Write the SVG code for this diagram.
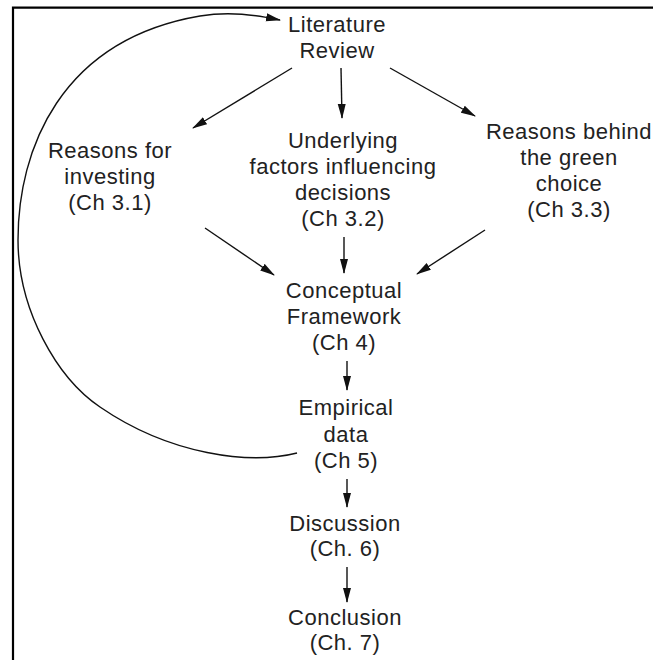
<svg xmlns="http://www.w3.org/2000/svg" width="653" height="660" viewBox="0 0 653 660">
<defs>
<style>
text{font-family:"Liberation Sans",Arial,sans-serif;font-size:22px;letter-spacing:0.5px;fill:#222;text-anchor:middle}
.c{fill:none;stroke:#111;stroke-width:1.4}
</style>
<marker id="ah" viewBox="0 0 15 9" refX="14" refY="4.5" markerWidth="15" markerHeight="9" markerUnits="userSpaceOnUse" orient="auto">
<path d="M0,0.5 L15,4.5 L0,8.5 Z" fill="#111"/>
</marker>
</defs>
<rect width="653" height="660" fill="#fff"/>
<g id="frame">
<path d="M13,660 V7.7 H653" fill="none" stroke="#000" stroke-width="2.2"/>
</g>
<g id="lit"><text x="337" y="32">Literature</text><text x="337" y="58">Review</text></g>
<g id="r31"><text x="110" y="158">Reasons for</text><text x="110" y="184">investing</text><text x="110" y="210">(Ch 3.1)</text></g>
<g id="r32"><text x="343" y="148">Underlying</text><text x="343" y="174">factors influencing</text><text x="343" y="200">decisions</text><text x="343" y="226">(Ch 3.2)</text></g>
<g id="r33"><text x="569" y="139">Reasons behind</text><text x="569" y="165">the green</text><text x="569" y="191">choice</text><text x="569" y="217">(Ch 3.3)</text></g>
<g id="cf"><text x="344" y="298">Conceptual</text><text x="344" y="324">Framework</text><text x="344" y="350">(Ch 4)</text></g>
<g id="ed"><text x="346" y="415">Empirical</text><text x="346" y="442">data</text><text x="346" y="468">(Ch 5)</text></g>
<g id="disc"><text x="345" y="531">Discussion</text><text x="345" y="556">(Ch. 6)</text></g>
<g id="conc"><text x="345" y="625">Conclusion</text><text x="345" y="650">(Ch. 7)</text></g>
<g id="connectors">
<path class="c" marker-end="url(#ah)" d="M292,68 L193,128"/>
<path class="c" marker-end="url(#ah)" d="M341,68 L342,118"/>
<path class="c" marker-end="url(#ah)" d="M390,68 L475,116"/>
<path class="c" marker-end="url(#ah)" d="M205,228 L274,275"/>
<path class="c" marker-end="url(#ah)" d="M344,237 L344,273"/>
<path class="c" marker-end="url(#ah)" d="M485,230 L417,274"/>
<path class="c" marker-end="url(#ah)" d="M347,361 L347,390"/>
<path class="c" marker-end="url(#ah)" d="M347,479 L347,507"/>
<path class="c" marker-end="url(#ah)" d="M347,567 L347,602"/>
<path class="c" marker-end="url(#ah)" d="M297,453 C250,465 170,455 100,407 C57,378 18,310 18,240 C18,150 60,40 200,16 C230,11 255,15 280,20"/>
</g>
</svg>
